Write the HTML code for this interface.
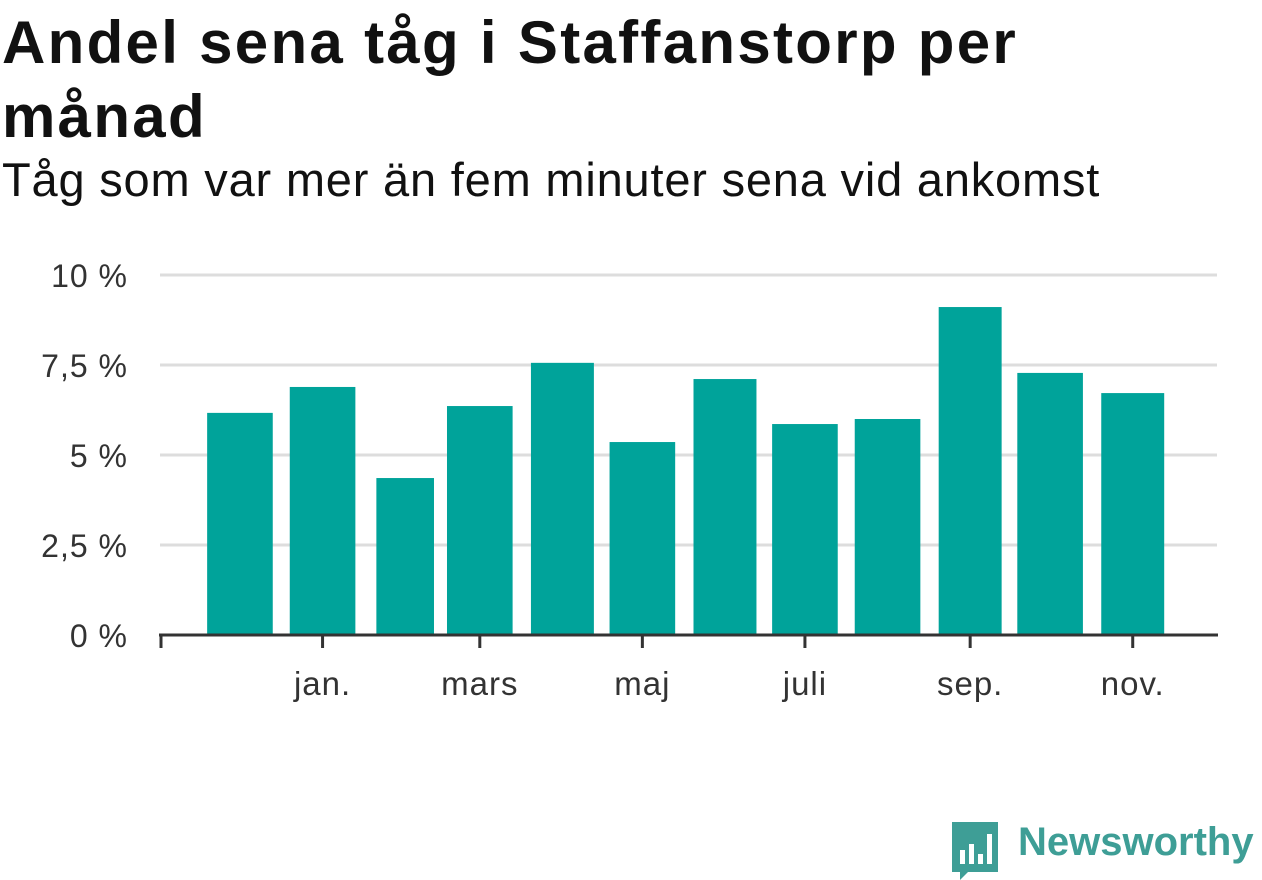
<!DOCTYPE html>
<html><head><meta charset="utf-8">
<style>
body{margin:0;width:1262px;height:879px;background:#fff;font-family:"Liberation Sans",sans-serif;overflow:hidden;position:relative}
h1{position:absolute;left:2px;top:6px;margin:0;font-size:60px;line-height:74px;font-weight:bold;color:#111;width:1250px;letter-spacing:2.3px}
.sub{position:absolute;left:2px;top:152px;font-size:47px;color:#111;letter-spacing:0.8px}
svg{position:absolute;left:0;top:0}
</style></head><body>
<h1>Andel sena tåg i Staffanstorp per<br>månad</h1>
<div class="sub">Tåg som var mer än fem minuter sena vid ankomst</div>
<svg id="c" width="1262" height="879"></svg>
<script>
const months=["2022-12","2023-01","2023-02","2023-03","2023-04","2023-05","2023-06","2023-07","2023-08","2023-09","2023-10","2023-11"];
const values=[6.17,6.89,4.36,6.36,7.56,5.36,7.11,5.86,6.0,9.11,7.28,6.72];
const yTicks=[0,2.5,5,7.5,10];
const yTickLabels=["0 %","2,5 %","5 %","7,5 %","10 %"];
const xTickMonths=["2023-01","2023-03","2023-05","2023-07","2023-09","2023-11"];
const xTickLabels=["jan.","mars","maj","juli","sep.","nov."];
const NS="http://www.w3.org/2000/svg";
const svg=document.getElementById('c');
const t0=Date.UTC(2022,10,1),pxDay=2.665;
function day(m){const[a,b]=m.split('-').map(Number);return (Date.UTC(a,b-1,1)-t0)/864e5;}
function x(m){return 160+day(m)*pxDay;}
function y(v){return 635-v*36;}
function mk(tag,attrs){const e=document.createElementNS(NS,tag);for(const k in attrs)e.setAttribute(k,attrs[k]);svg.appendChild(e);return e;}
yTicks.forEach((v,i)=>{
 if(v>0){const l=mk('line',{x1:160,x2:1217,y1:y(v),y2:y(v),stroke:'#ddd','stroke-width':3});
 
 }
 const t=mk('text',{x:128,y:y(v)+12,'text-anchor':'end','font-size':32,'letter-spacing':1,fill:'#333','font-family':'Liberation Sans, sans-serif'});
 t.textContent=yTickLabels[i];
 
 
});
months.forEach((m,i)=>{
 const[a,b]=m.split('-').map(Number);
 const days=new Date(Date.UTC(a,b,0)).getUTCDate();
 const w=days*pxDay-17,cx=x(m);
 const r=mk('rect',{x:cx-w/2,y:y(values[i]),width:w,height:y(0)-y(values[i]),fill:'#00a39a'});
 
 
});
const ax=mk('line',{x1:159,x2:1218,y1:635,y2:635,stroke:'#333','stroke-width':3});


const t1=mk('line',{x1:161,x2:161,y1:635,y2:648,stroke:'#333','stroke-width':3});


xTickMonths.forEach((m,i)=>{
 const tk=mk('line',{x1:x(m),x2:x(m),y1:635,y2:648,stroke:'#333','stroke-width':3});
 
 
 const t=mk('text',{x:x(m),y:695,'text-anchor':'middle','font-size':33,'letter-spacing':1,fill:'#333','font-family':'Liberation Sans, sans-serif'});
 t.textContent=xTickLabels[i];
 
 
});
</script>
<svg width="60" height="60" style="left:950px;top:820px">
<path d="M2 2h46v50h-30l-8 8v-8h-8z" fill="#3e9e96"/>
<rect x="10" y="30" width="5" height="14" fill="#fff"/><rect x="19" y="24" width="5" height="20" fill="#fff"/><rect x="28" y="34" width="5" height="10" fill="#fff"/><rect x="37" y="14" width="5" height="30" fill="#fff"/>
</svg>
<div style="position:absolute;left:1018px;top:820px;font-size:40px;font-weight:bold;color:#3e9e96">Newsworthy</div>
</body></html>
